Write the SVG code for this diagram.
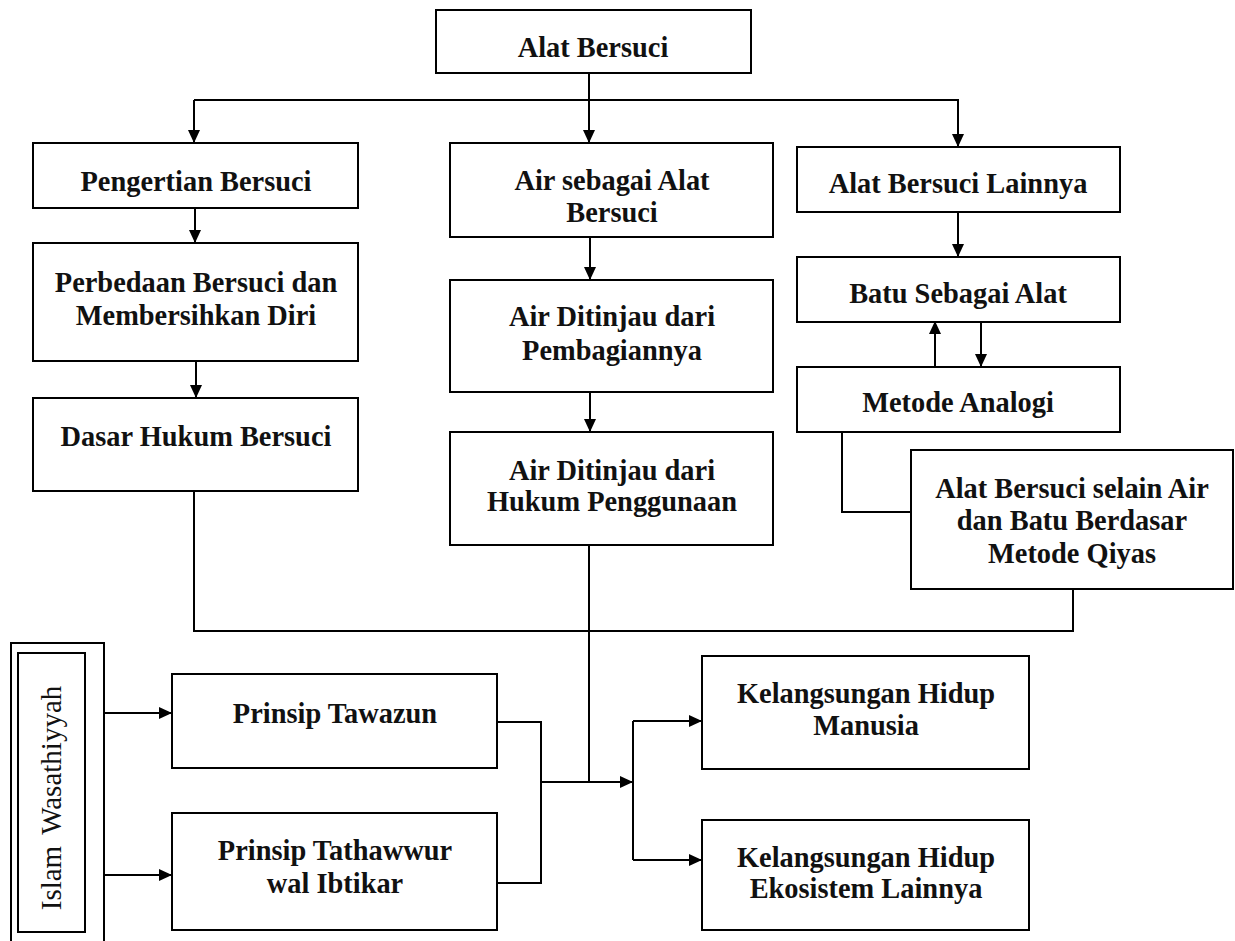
<svg xmlns="http://www.w3.org/2000/svg" width="1235" height="941" viewBox="0 0 1235 941">
<style>
.box{fill:#fff;stroke:#000;stroke-width:2}
.t{font-family:'Liberation Serif','DejaVu Serif',serif;font-weight:bold;font-size:28.4px;fill:#111;text-anchor:middle}
.r{font-family:'Liberation Serif','DejaVu Serif',serif;font-size:29px;fill:#111;text-anchor:middle}
.ln{fill:none;stroke:#000;stroke-width:2}
.ar{fill:none;stroke:#000;stroke-width:2;marker-end:url(#ah)}
</style>
<defs>
<marker id="ah" markerUnits="userSpaceOnUse" markerWidth="13" markerHeight="12" refX="13" refY="6" orient="auto">
<path d="M0,0 L13,6 L0,12 z" fill="#000"/>
</marker>
</defs>
<rect width="1235" height="941" fill="#fff"/>

<g id="connectors">
<path class="ln" d="M589,73 V100 M194,100 H959"/>
<path class="ar" d="M194,100 V143"/>
<path class="ar" d="M589,100 V143"/>
<path class="ar" d="M958,100 V147"/>
<path class="ar" d="M195,200 V243"/>
<path class="ar" d="M196,353 V398"/>
<path class="ar" d="M590,230 V280"/>
<path class="ar" d="M590,385 V432"/>
<path class="ar" d="M958,210 V257"/>
<path class="ar" d="M935,367 V321"/>
<path class="ar" d="M981,318 V367"/>
<path class="ln" d="M842,427 V512 H911"/>
<path class="ln" d="M194,491 V631 H1073 V582"/>
<path class="ln" d="M589,537 V782"/>
<path class="ar" d="M104,713 H172"/>
<path class="ar" d="M104,875 H172"/>
<path class="ln" d="M497,722 H541 V883 H497"/>
<path class="ar" d="M541,782 H633"/>
<path class="ln" d="M633,721 V860"/>
<path class="ar" d="M633,721 H702"/>
<path class="ar" d="M633,860 H702"/>
</g>

<g id="n-alat-bersuci">
<rect class="box" x="436" y="10" width="315" height="63"/>
<text class="t" x="593" y="57">Alat Bersuci</text>
</g>
<g id="n-pengertian">
<rect class="box" x="33" y="143" width="325" height="65"/>
<text class="t" x="196" y="191">Pengertian Bersuci</text>
</g>
<g id="n-perbedaan">
<rect class="box" x="33" y="243" width="325" height="118"/>
<text class="t" x="196" y="292">Perbedaan Bersuci dan</text>
<text class="t" x="196" y="325">Membersihkan Diri</text>
</g>
<g id="n-dasar">
<rect class="box" x="33" y="398" width="325" height="93"/>
<text class="t" x="196" y="446">Dasar Hukum Bersuci</text>
</g>
<g id="n-air">
<rect class="box" x="450" y="143" width="323" height="94"/>
<text class="t" x="612" y="190">Air sebagai Alat</text>
<text class="t" x="612" y="222">Bersuci</text>
</g>
<g id="n-pembagian">
<rect class="box" x="450" y="280" width="323" height="112"/>
<text class="t" x="612" y="326">Air Ditinjau dari</text>
<text class="t" x="612" y="360">Pembagiannya</text>
</g>
<g id="n-hukum">
<rect class="box" x="450" y="432" width="323" height="113"/>
<text class="t" x="612" y="480">Air Ditinjau dari</text>
<text class="t" x="612" y="511">Hukum Penggunaan</text>
</g>
<g id="n-lainnya">
<rect class="box" x="797" y="147" width="323" height="65"/>
<text class="t" x="958" y="193">Alat Bersuci Lainnya</text>
</g>
<g id="n-batu">
<rect class="box" x="797" y="257" width="323" height="65"/>
<text class="t" x="958" y="303">Batu Sebagai Alat</text>
</g>
<g id="n-metode">
<rect class="box" x="797" y="367" width="323" height="65"/>
<text class="t" x="958" y="412">Metode Analogi</text>
</g>
<g id="n-selain">
<rect class="box" x="911" y="450" width="322" height="139"/>
<text class="t" x="1072" y="498">Alat Bersuci selain Air</text>
<text class="t" x="1072" y="530">dan Batu Berdasar</text>
<text class="t" x="1072" y="563">Metode Qiyas</text>
</g>
<g id="n-islam">
<rect class="box" x="11" y="643" width="93" height="310"/>
<rect class="box" x="18" y="653" width="67" height="279"/>
<text class="r" transform="translate(61,798) rotate(-90)">Islam<tspan dx="11">Wasathiyyah</tspan></text>
</g>
<g id="n-tawazun">
<rect class="box" x="172" y="674" width="325" height="94"/>
<text class="t" x="335" y="723">Prinsip Tawazun</text>
</g>
<g id="n-tathawwur">
<rect class="box" x="172" y="813" width="325" height="117"/>
<text class="t" x="335" y="860">Prinsip Tathawwur</text>
<text class="t" x="335" y="893">wal Ibtikar</text>
</g>
<g id="n-manusia">
<rect class="box" x="702" y="656" width="327" height="113"/>
<text class="t" x="866" y="703">Kelangsungan Hidup</text>
<text class="t" x="866" y="735">Manusia</text>
</g>
<g id="n-ekosistem">
<rect class="box" x="702" y="820" width="327" height="110"/>
<text class="t" x="866" y="867">Kelangsungan Hidup</text>
<text class="t" x="866" y="898">Ekosistem Lainnya</text>
</g>
</svg>
